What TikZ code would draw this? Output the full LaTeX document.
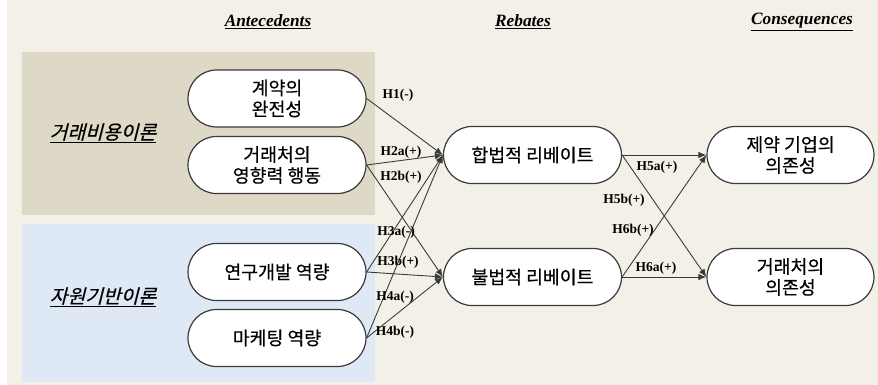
\documentclass[tikz,border=0pt]{standalone}
\usepackage{fontspec}
\setmainfont{Liberation Serif}
\newfontfamily\kr[FakeBold=0.4]{Noto Sans CJK KR}
\newfontfamily\krit[FakeSlant=0.25,FakeBold=0.4]{Noto Sans CJK KR}
\usetikzlibrary{shapes.misc,arrows.meta}
\definecolor{cream}{HTML}{F3F1E7}
\definecolor{tan}{HTML}{DDD9C6}
\definecolor{lblue}{HTML}{DFE8F5}
\definecolor{edge}{HTML}{3A3A3A}
\tikzset{
  box/.style={rounded rectangle, draw=edge, line width=1.2pt, fill=white,
    minimum height=57pt, align=center, inner sep=2pt,
    font=\kr\fontsize{18.3}{21}\selectfont},
  lbox/.style={box, minimum width=182pt},
  rbox/.style={box, minimum width=171pt},
  hyp/.style={font=\bfseries\fontsize{13.5}{14}\selectfont, inner sep=0pt},
  head/.style={font=\bfseries\itshape\fontsize{17.3}{19}\selectfont, inner sep=0pt},
  theory/.style={font=\krit\fontsize{19.3}{21}\selectfont, inner sep=0pt},
  arr/.style={draw=edge, line width=0.9pt, -{Latex[length=8pt,width=6.5pt]}}
}
\begin{document}
\begin{tikzpicture}[x=1pt,y=-1pt]
\useasboundingbox (0,0) rectangle (878,385);
\fill[white] (0,0) rectangle (878,385);
\fill[cream] (7,0) rectangle (878,385);
\fill[tan] (22,52) rectangle (375,215);
\fill[lblue] (22,224) rectangle (375,382);

\node[head] (hA) at (268,22) {\underline{Antecedents}};
\node[head] (hR) at (523,22) {\underline{Rebates}};
\node[head] (hC) at (802,22) {\underline{Consequences}};

\node[theory] (tce) at (103,133) {\underline{거래비용이론}};
\node[theory] (rbv) at (103,297) {\underline{자원기반이론}};

\node[lbox] (a1) at (277,98.5) {계약의\\완전성};
\node[lbox] (a2) at (277,165) {거래처의\\영향력 행동};
\node[lbox] (a3) at (277,272) {연구개발 역량};
\node[lbox] (a4) at (277,338) {마케팅 역량};

\node[lbox] (m1) at (532.5,155) {합법적 리베이트};
\node[lbox] (m2) at (532.5,277) {불법적 리베이트};

\node[rbox] (c1) at (790.5,155) {제약 기업의\\의존성};
\node[rbox] (c2) at (790.5,277) {거래처의\\의존성};

\draw[arr] (a1.east) -- (m1.west);
\draw[arr] (a2.east) -- (m1.west);
\draw[arr] (a2.east) -- (m2.west);
\draw[arr] (a3.east) -- (m1.west);
\draw[arr] (a3.east) -- (m2.west);
\draw[arr] (a4.east) -- (m1.west);
\draw[arr] (a4.east) -- (m2.west);

\draw[arr] (m1.east) -- (c1.west);
\draw[arr] (m1.east) -- (c2.west);
\draw[arr] (m2.east) -- (c1.west);
\draw[arr] (m2.east) -- (c2.west);

\node[hyp] (h1) at (398,95) {H1(-)};
\node[hyp] (h2a) at (401,152) {H2a(+)};
\node[hyp] (h2b) at (401,177) {H2b(+)};
\node[hyp] (h3a) at (396,232) {H3a(-)};
\node[hyp] (h3b) at (398,262) {H3b(+)};
\node[hyp] (h4a) at (395,297) {H4a(-)};
\node[hyp] (h4b) at (395,332) {H4b(-)};
\node[hyp] (h5a) at (657,167) {H5a(+)};
\node[hyp] (h5b) at (624,200) {H5b(+)};
\node[hyp] (h6b) at (633,230) {H6b(+)};
\node[hyp] (h6a) at (656,268) {H6a(+)};
\end{tikzpicture}
\end{document}
